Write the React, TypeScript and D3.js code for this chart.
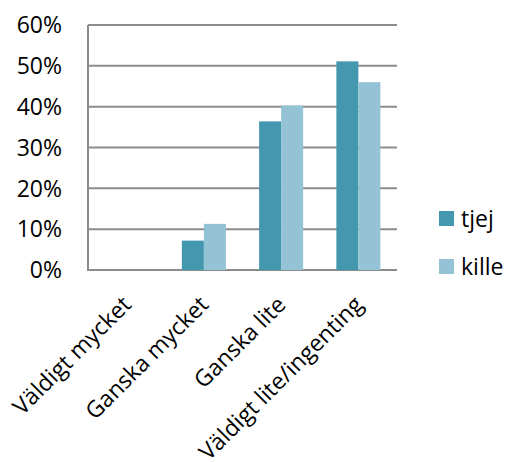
import React from "react";
import * as d3 from "d3";

const categories = ["Väldigt mycket", "Ganska mycket", "Ganska lite", "Väldigt lite/ingenting"];
const seriesNames = ["tjej", "kille"];
const tjej = [0, 0.072, 0.364, 0.511];
const kille = [0, 0.113, 0.403, 0.46];
const yTicks = [0, 0.1, 0.2, 0.3, 0.4, 0.5, 0.6];
const colors = ["#4398B0", "#93C3D5"];

export default function App() {
  const W = 505, H = 462;
  const left = 88, right = 397, top = 25, bottom = 270;
  const x = d3.scaleBand<string>().domain(categories).range([left, right]).paddingInner(0.43).paddingOuter(0.215);
  const x1 = d3.scaleBand<string>().domain(seriesNames).range([0, x.bandwidth()]);
  const y = d3.scaleLinear().domain([0, 0.6]).range([bottom, top]);
  const fmt = d3.format(".0%");
  const font = "'Open Sans', sans-serif";
  const series = [tjej, kille];
  return (
    <svg width={W} height={H} style={{ position: "absolute", left: 0, top: 0 }}>
      <rect width={W} height={H} fill="#fff" />
      {yTicks.map((t) => (
        <g key={t}>
          <line x1={left} x2={right} y1={y(t)} y2={y(t)} stroke="#8c8c8c" strokeWidth={2} />
          <text x={62} y={y(t)} dy="0.36em" textAnchor="end" fontFamily={font} fontSize={23} fill="#000">{fmt(t)}</text>
        </g>
      ))}
      <line x1={left} x2={left} y1={top} y2={bottom + 1} stroke="#8c8c8c" strokeWidth={2} />
      {series.map((vals, si) =>
        vals.map((v, i) =>
          v > 0 ? (
            <rect key={si + "-" + i} x={(x(categories[i]) as number) + (x1(seriesNames[si]) as number)} y={y(v)} width={x1.bandwidth()} height={bottom - y(v)} fill={colors[si]} />
          ) : null
        )
      )}
      {categories.map((c) => {
        const cx = (x(c) as number) + x.bandwidth() / 2 + 6;
        const cy = 306;
        return (
          <text key={c} x={cx} y={cy} textAnchor="end" transform={`rotate(-45 ${cx} ${cy})`} fontFamily={font} fontSize={23} fill="#000">{c}</text>
        );
      })}
      {seriesNames.map((s, i) => (
        <g key={s}>
          <rect x={439} y={211 + i * 48} width={15} height={15} fill={colors[i]} />
          <text x={461} y={218.5 + i * 48} dy="0.36em" fontFamily={font} fontSize={23} fill="#000">{s}</text>
        </g>
      ))}
    </svg>
  );
}
